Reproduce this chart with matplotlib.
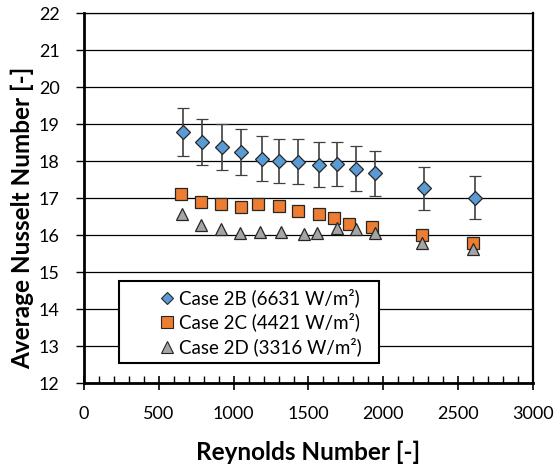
import matplotlib.pyplot as plt
from matplotlib.lines import Line2D
from matplotlib.patches import Rectangle

# Case 2B (6631 W/m2), with measurement uncertainty
re_2b = [662, 787, 920, 1047, 1191, 1300, 1429, 1571, 1689, 1820, 1947, 2273, 2613]
nu_2b = [18.79, 18.53, 18.38, 18.24, 18.07, 18.01, 17.99, 17.91, 17.92, 17.80, 17.67, 17.27, 17.02]
err_2b = [0.64, 0.62, 0.62, 0.62, 0.61, 0.60, 0.60, 0.60, 0.60, 0.60, 0.60, 0.58, 0.57]

# Case 2C (4421 W/m2)
re_2c = [651, 780, 918, 1047, 1163, 1300, 1427, 1569, 1673, 1773, 1925, 2256, 2596]
nu_2c = [17.11, 16.91, 16.85, 16.77, 16.84, 16.79, 16.66, 16.58, 16.47, 16.30, 16.22, 16.02, 15.78]

# Case 2D (3316 W/m2)
re_2d = [655, 782, 915, 1044, 1173, 1318, 1469, 1560, 1691, 1818, 1947, 2258, 2596]
nu_2d = [16.58, 16.29, 16.16, 16.05, 16.10, 16.10, 16.04, 16.07, 16.19, 16.17, 16.05, 15.78, 15.62]

labels = [
    "Case 2B (6631 W/m²)",
    "Case 2C (4421 W/m²)",
    "Case 2D (3316 W/m²)",
]
colors = ["#5B9BD5", "#ED7D31", "#A5A5A5"]
markers = ["D", "s", "^"]

plt.rcParams["font.family"] = ["Lato", "DejaVu Sans"]

fig = plt.figure(figsize=(5.57, 4.66), dpi=100)
ax = fig.add_axes([0.1508, 0.1775, 0.8061, 0.794])

edge = "#262626"
ax.errorbar(re_2b, nu_2b, yerr=err_2b, fmt="D", ms=7.2, mfc=colors[0], mec=edge,
            mew=0.9, ecolor="#404040", elinewidth=1.2, capsize=4, capthick=1.2,
            zorder=4)
ax.plot(re_2c, nu_2c, "s", ms=9.2, mfc=colors[1], mec=edge, mew=0.9, zorder=3)
ax.plot(re_2d, nu_2d, "^", ms=9.2, mfc=colors[2], mec=edge, mew=0.9, zorder=3)

ax.set_xlim(0, 3000)
ax.set_ylim(12, 22)
ax.set_xticks(range(0, 3001, 500))
ax.set_xticks(range(0, 3001, 100), minor=True)
ax.set_yticks(range(12, 23))
ax.yaxis.grid(True, color="black", linewidth=0.9)
ax.set_axisbelow(True)

ax.tick_params(axis="x", which="major", direction="inout", length=10, width=1.2,
               labelsize=13, pad=11)
ax.tick_params(axis="x", which="minor", direction="in", length=5, width=1)
ax.tick_params(axis="y", which="major", direction="out", length=5.5, width=1,
               labelsize=13, pad=12)

for side, lw in [("left", 2), ("bottom", 2), ("right", 1.6), ("top", 0.9)]:
    ax.spines[side].set_linewidth(lw)
    ax.spines[side].set_color("black")

ax.set_xlabel("Reynolds Number [-]", fontsize=17.5, fontweight="bold", va="center")
ax.set_ylabel("Average Nusselt Number [-]", fontsize=17.5, fontweight="bold", va="center")
ax.xaxis.set_label_coords(0.5, -0.186)
ax.yaxis.set_label_coords(-0.136, 0.447)

# legend box drawn as a fixed white panel, entries right-aligned inside it
ax.add_patch(Rectangle((0.079, 0.054), 0.579, 0.222, transform=ax.transAxes,
                       facecolor="white", edgecolor="black", linewidth=1.5,
                       zorder=5))
handles = [
    Line2D([], [], linestyle="none", marker=m, ms=s, mfc=c, mec=edge, mew=0.8)
    for m, s, c in zip(markers, [6.5, 8.5, 8], colors)
]
leg = ax.legend(handles, labels, loc="center right", bbox_to_anchor=(0.618, 0.165),
                fontsize=13.5, frameon=False, handletextpad=0.1,
                handlelength=1.0, borderpad=0.0, borderaxespad=0.0,
                labelspacing=0.3)
leg.set_zorder(6)

fig.savefig("out.png", dpi=100)
